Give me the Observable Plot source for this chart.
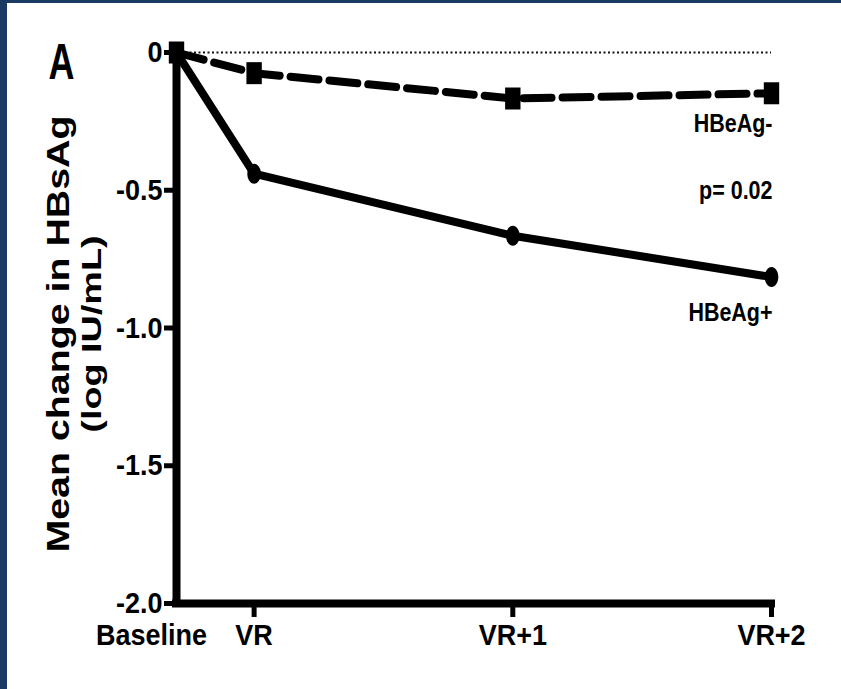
<!DOCTYPE html>
<html><head><meta charset="utf-8">
<script src="https://cdn.jsdelivr.net/npm/d3@7"></script>
<script src="https://cdn.jsdelivr.net/npm/@observablehq/plot@0.6"></script>
<style>
html,body{margin:0;padding:0;background:#183a63;width:841px;height:689px;overflow:hidden}
#chart{position:absolute;left:7px;top:3px;width:834px;height:686px;background:#fff}
#chart svg{display:block;background:#fff}
</style></head><body><div id="chart"></div>
<script>
// Data
const timepoints = ["Baseline", "VR", "VR+1", "VR+2"];
const timeValues = [0, 0.3, 1.3, 2.3];
const hbeagPos = [0, -0.44, -0.665, -0.815];   // HBeAg+ (solid)
const hbeagNeg = [0, -0.075, -0.167, -0.148];  // HBeAg- (dashed)
const yTicks = [0, -0.5, -1, -1.5, -2];
const annotationTexts = ["HBeAg-", "p= 0.02", "HBeAg+"];
const annotationValues = [-0.258, -0.50, -0.944];
const yTitle = ["Mean change in HBsAg", "(log IU/mL)"];
const panelLabel = "A";

const data = timepoints.map((t, i) => ({t, x: timeValues[i], pos: hbeagPos[i], neg: hbeagNeg[i]}));
const annotations = annotationTexts.map((s, i) => ({s, y: annotationValues[i]}));

const font = '"Liberation Sans", Arial, Helvetica, sans-serif';
const yFmt = d => d === 0 ? "0" : d.toFixed(1);

const ellipse = {draw(ctx, size) {
  const r = Math.sqrt(size / Math.PI), rx = r * 0.68, ry = r, k = 0.5523;
  ctx.moveTo(rx, 0);
  ctx.bezierCurveTo(rx, ry * k, rx * k, ry, 0, ry);
  ctx.bezierCurveTo(-rx * k, ry, -rx, ry * k, -rx, 0);
  ctx.bezierCurveTo(-rx, -ry * k, -rx * k, -ry, 0, -ry);
  ctx.bezierCurveTo(rx * k, -ry, rx, -ry * k, rx, 0);
  ctx.closePath();
}};
const tallRect = {draw(ctx, size) {
  const r = Math.sqrt(size / Math.PI);
  ctx.rect(-r * 0.7, -r, r * 1.4, r * 2);
}};

const xMax = timeValues[timeValues.length - 1];

const chart = Plot.plot({
  width: 834,
  height: 686,
  marginLeft: 169,
  marginRight: 70,
  marginTop: 49,
  marginBottom: 86,
  x: {domain: [0, xMax]},
  y: {domain: [-2, 0]},
  marks: [
    Plot.ruleY([0], {x1: 0, x2: xMax, stroke: "#111", strokeWidth: 2.2, strokeDasharray: "2,2.5"}),
    Plot.line(data, {x: "x", y: "neg", stroke: "black", strokeWidth: 8, strokeDasharray: "28,11"}),
    Plot.dot(data, {x: "x", y: "neg", r: 11, symbol: tallRect, fill: "black"}),
    Plot.line(data, {x: "x", y: "pos", stroke: "black", strokeWidth: 8, strokeLinejoin: "round"}),
    Plot.dot(data, {x: "x", y: "pos", r: 10, symbol: ellipse, fill: "black"}),
    Plot.ruleX([0], {y1: -2, y2: 0, stroke: "black", strokeWidth: 8, strokeLinecap: "square"}),
    Plot.ruleY([-2], {x1: 0, x2: xMax, stroke: "black", strokeWidth: 8, strokeLinecap: "square"}),
    Plot.axisY({ticks: yTicks, tickFormat: yFmt, tickSize: 12, tickPadding: 2,
      strokeWidth: 5, fontSize: 30, fontWeight: "bold", fontFamily: font, label: null, color: "black"}),
    Plot.axisX({ticks: timeValues.slice(1), tickFormat: v => timepoints[timeValues.indexOf(v)], tickSize: 14, tickPadding: 6,
      strokeWidth: 5, fontSize: 30, fontWeight: "bold", fontFamily: font, label: null, color: "black"}),
    Plot.axisX({ticks: timeValues.slice(0, 1), tickFormat: v => timepoints[timeValues.indexOf(v)], tickSize: 0, tickPadding: 20, dx: -25,
      fontSize: 30, fontWeight: "bold", fontFamily: font, label: null, color: "black"}),
    Plot.text(annotations, {x: () => xMax, y: "y", text: "s", textAnchor: "end", dx: 1,
      fontSize: 26.5, fontWeight: "bold", fontFamily: font, fill: "black"}),
    Plot.text([yTitle[0]], {frameAnchor: "left", dx: -117, dy: 6, rotate: -90, textAnchor: "middle", lineAnchor: "middle",
      fontSize: 30.5, fontWeight: "bold", fontFamily: font, fill: "black"}),
    Plot.text([yTitle[1]], {frameAnchor: "left", dx: -84, dy: 6, rotate: -90, textAnchor: "middle", lineAnchor: "middle",
      fontSize: 27, fontWeight: "bold", fontFamily: font, fill: "black"}),
    Plot.text([panelLabel], {frameAnchor: "top-left", dx: -115, dy: 10, textAnchor: "middle", lineAnchor: "middle",
      fontSize: 50, fontWeight: "bold", fontFamily: font, fill: "black"})
  ]
});
document.getElementById("chart").appendChild(chart);

// The reference image is vertically stretched: emulate by squeezing glyphs horizontally.
function squeeze(t, sx) {
  const tr = t.getAttribute("transform");
  if (tr) t.setAttribute("transform", tr + ` scale(${sx},1)`);
  else {
    const x = +t.getAttribute("x") || 0, y = +t.getAttribute("y") || 0;
    t.setAttribute("transform", `translate(${x},${y}) scale(${sx},1) translate(${-x},${-y})`);
  }
}
const tickLabels = new Set([...timepoints, ...yTicks.map(yFmt)]);
chart.querySelectorAll("text").forEach(t => {
  const s = t.textContent;
  if (tickLabels.has(s)) squeeze(t, 0.9);
  else if (annotationTexts.includes(s)) squeeze(t, 0.81);
  else if (s === panelLabel) squeeze(t, 0.72);
  else if (s === yTitle[0]) squeeze(t, 1.29);
  else if (s === yTitle[1]) squeeze(t, 1.4);
});
</script>
</body></html>
